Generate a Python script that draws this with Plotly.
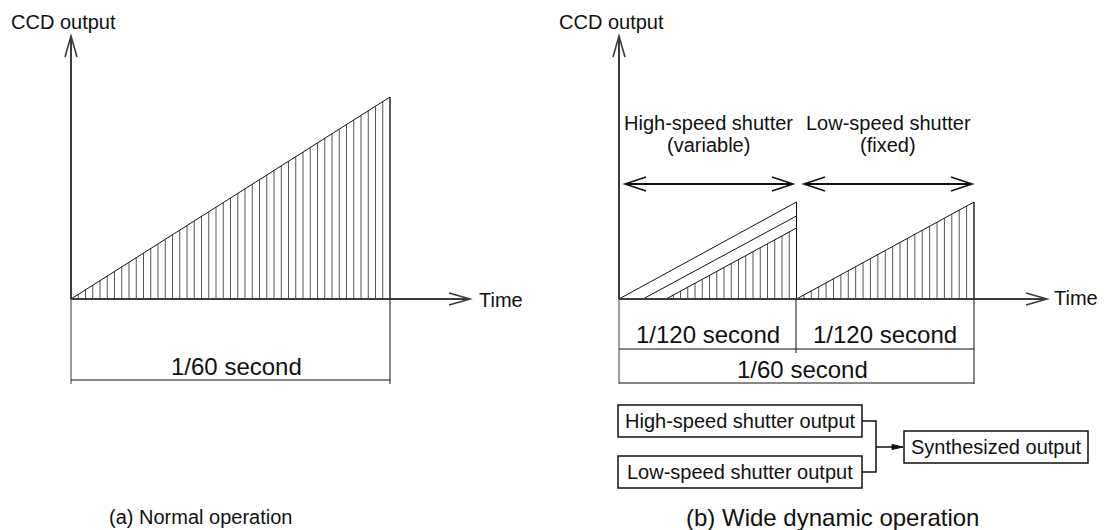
import plotly.graph_objects as go
import numpy as np

W, H = 1113, 530
FONT = "Liberation Sans, Arial, sans-serif"
INK = "#111111"
AXIS = "#3c3c3c"
HATCH = "#555555"

# ---------------- data ----------------
# (a) normal operation: time in units of 1/60 s, CCD output relative to its peak
a_time = [0.0, 1.0]
a_output = [0.0, 1.0]
a_hatch_lines = 44

# (b) wide dynamic operation: time in units of 1/120 s
b_high_start = [0.0, 0.135, 0.265]
b_high_end = [1.0, 1.0, 1.0]
b_high_peak = [1.0, 0.856, 0.732]
b_low_time = [1.0, 2.0]
b_low_output = [0.0, 1.0]
b_high_hatch_lines = 18
b_low_hatch_lines = 24

axis_y_label = "CCD output"
axis_x_label = "Time"
a_period_label = "1/60 second"
b_period_labels = ["1/120 second", "1/120 second"]
b_frame_label = "1/60 second"
b_shutter_titles = ["High-speed shutter", "Low-speed shutter"]
b_shutter_modes = ["(variable)", "(fixed)"]
b_box_labels = ["High-speed shutter output", "Low-speed shutter output", "Synthesized output"]
captions = ["(a) Normal operation", "(b) Wide dynamic operation"]

# ---------------- panel geometry (pixels) ----------------
PA = dict(x0=71, sx=319.0, y0=299, sy=202.0)
PB = dict(x0=619, sx=177.5, y0=299, sy=97.0)


def xr(p):
    return [-p["x0"] / p["sx"], (W - p["x0"]) / p["sx"]]


def yr(p):
    return [(p["y0"] - H) / p["sy"], p["y0"] / p["sy"]]


def X(x):
    return x / W


def Y(y):
    return 1 - y / H


fig = go.Figure()


def add_hatch(t0, t1, peak, n, xa, ya):
    pos = t0 + (t1 - t0) * np.arange(1, n + 1) / n
    hts = peak * (pos - t0) / (t1 - t0)
    xs, ys = [], []
    for p, h in zip(pos, hts):
        xs += [p, p, None]
        ys += [0, h, None]
    fig.add_trace(go.Scatter(x=xs, y=ys, mode="lines", xaxis=xa, yaxis=ya,
                             line=dict(color=HATCH, width=1), hoverinfo="skip",
                             showlegend=False))


def add_ramp(t0, t1, peak, xa, ya, close=True):
    xs = [t0, t1] + ([t1] if close else [])
    ys = [0, peak] + ([0] if close else [])
    fig.add_trace(go.Scatter(x=xs, y=ys, mode="lines", xaxis=xa, yaxis=ya,
                             line=dict(color=INK, width=1), hoverinfo="skip",
                             showlegend=False))


# panel (a)
add_hatch(a_time[0], a_time[1], a_output[1], a_hatch_lines, "x", "y")
add_ramp(a_time[0], a_time[1], a_output[1], "x", "y")

# panel (b)
add_hatch(b_high_start[2], b_high_end[2], b_high_peak[2], b_high_hatch_lines, "x2", "y2")
for s, e, pk in zip(b_high_start, b_high_end, b_high_peak):
    add_ramp(s, e, pk, "x2", "y2")
add_hatch(b_low_time[0], b_low_time[1], b_low_output[1], b_low_hatch_lines, "x2", "y2")
add_ramp(b_low_time[0], b_low_time[1], b_low_output[1], "x2", "y2")

shapes = []


def line(x0, y0, x1, y1, w=1, c=INK):
    shapes.append(dict(type="line", xref="paper", yref="paper",
                       x0=X(x0), y0=Y(y0), x1=X(x1), y1=Y(y1),
                       line=dict(color=c, width=w)))


def path(pts, w=1.6, c=INK, fill=None):
    d = "M " + " L ".join(f"{X(a):.5f},{Y(b):.5f}" for a, b in pts)
    if fill:
        d += " Z"
    shapes.append(dict(type="path", xref="paper", yref="paper", path=d,
                       line=dict(color=c, width=w),
                       fillcolor=fill if fill else "rgba(0,0,0,0)"))


def rect(x0, y0, x1, y1):
    shapes.append(dict(type="rect", xref="paper", yref="paper",
                       x0=X(x0), y0=Y(y1), x1=X(x1), y1=Y(y0),
                       line=dict(color=INK, width=1.5)))


# ---- panel (a) axes ----
line(71, 36, 71, 299, 2, AXIS)
line(71, 299, 71, 384, 1, AXIS)
line(71, 299, 469, 299, 2.2, AXIS)
path([(65, 57), (71, 36), (77, 57)], 1.6, AXIS)
path([(449, 293), (470, 299), (449, 305)], 1.6, AXIS)
line(390, 299, 390, 384, 1, INK)
line(71, 380, 390, 380, 1, INK)

# ---- panel (b) axes ----
line(619, 36, 619, 299, 2, AXIS)
line(619, 299, 619, 384, 1, AXIS)
line(619, 299, 1046, 299, 2.2, AXIS)
path([(613, 57), (619, 36), (625, 57)], 1.6, AXIS)
path([(1026, 293), (1047, 299), (1026, 305)], 1.6, AXIS)
line(796, 299, 796, 353, 1, INK)
line(974, 299, 974, 384, 1, INK)
line(619, 349, 974, 349, 1, INK)
line(619, 383, 974, 383, 1, INK)

# shutter span arrows
for xa, xb in [(625, 793), (804, 972)]:
    line(xa, 184, xb, 184, 2, INK)
    path([(xa + 21, 177), (xa, 184), (xa + 21, 191)], 1.6)
    path([(xb - 21, 177), (xb, 184), (xb - 21, 191)], 1.6)

# boxes and connector
rect(618, 405, 862, 437)
rect(618, 456, 862, 488)
rect(904, 431, 1088, 463)
path([(862, 421), (876, 421), (876, 472), (862, 472)], 1.5)
line(876, 447, 903, 447, 1.5)
path([(892, 444.5), (903, 447), (892, 449.5)], 1, INK, fill=INK)

ann = []


def text(s, x, y, size, xanchor="center"):
    ann.append(dict(text=s, x=X(x), y=Y(y), xref="paper", yref="paper",
                    xanchor=xanchor, yanchor="middle", showarrow=False,
                    font=dict(family=FONT, size=size, color=INK)))


text(axis_y_label, 9, 22, 20, "left")
text(axis_y_label, 557, 22, 20, "left")
text(axis_x_label, 477, 300, 20, "left")
text(axis_x_label, 1052, 298, 20, "left")
text(a_period_label, 236, 366, 24)
text(b_shutter_titles[0], 708, 123, 20)
text(b_shutter_modes[0], 708, 145, 20)
text(b_shutter_titles[1], 888, 123, 20)
text(b_shutter_modes[1], 888, 145, 20)
text(b_period_labels[0], 708, 334, 24)
text(b_period_labels[1], 885, 334, 24)
text(b_frame_label, 802, 369, 24)
text(b_box_labels[0], 740, 421, 20)
text(b_box_labels[1], 740, 472, 20)
text(b_box_labels[2], 996, 447, 20)
text(captions[0], 200, 517, 20)
text(captions[1], 833, 517, 24)

hidden = dict(visible=False, showgrid=False, zeroline=False, fixedrange=True)
fig.update_layout(
    width=W, height=H, autosize=False,
    margin=dict(l=0, r=0, t=0, b=0, pad=0),
    paper_bgcolor="white", plot_bgcolor="white",
    showlegend=False,
    xaxis=dict(range=xr(PA), domain=[0, 1], **hidden),
    yaxis=dict(range=yr(PA), domain=[0, 1], **hidden),
    xaxis2=dict(range=xr(PB), domain=[0, 1], overlaying="x", anchor="y2", **hidden),
    yaxis2=dict(range=yr(PB), domain=[0, 1], overlaying="y", anchor="x2", **hidden),
    shapes=shapes,
    annotations=ann,
)

fig.write_html("out.html", config={"displayModeBar": False},
               post_script="document.body.style.margin='0';document.body.style.overflow='hidden';")
